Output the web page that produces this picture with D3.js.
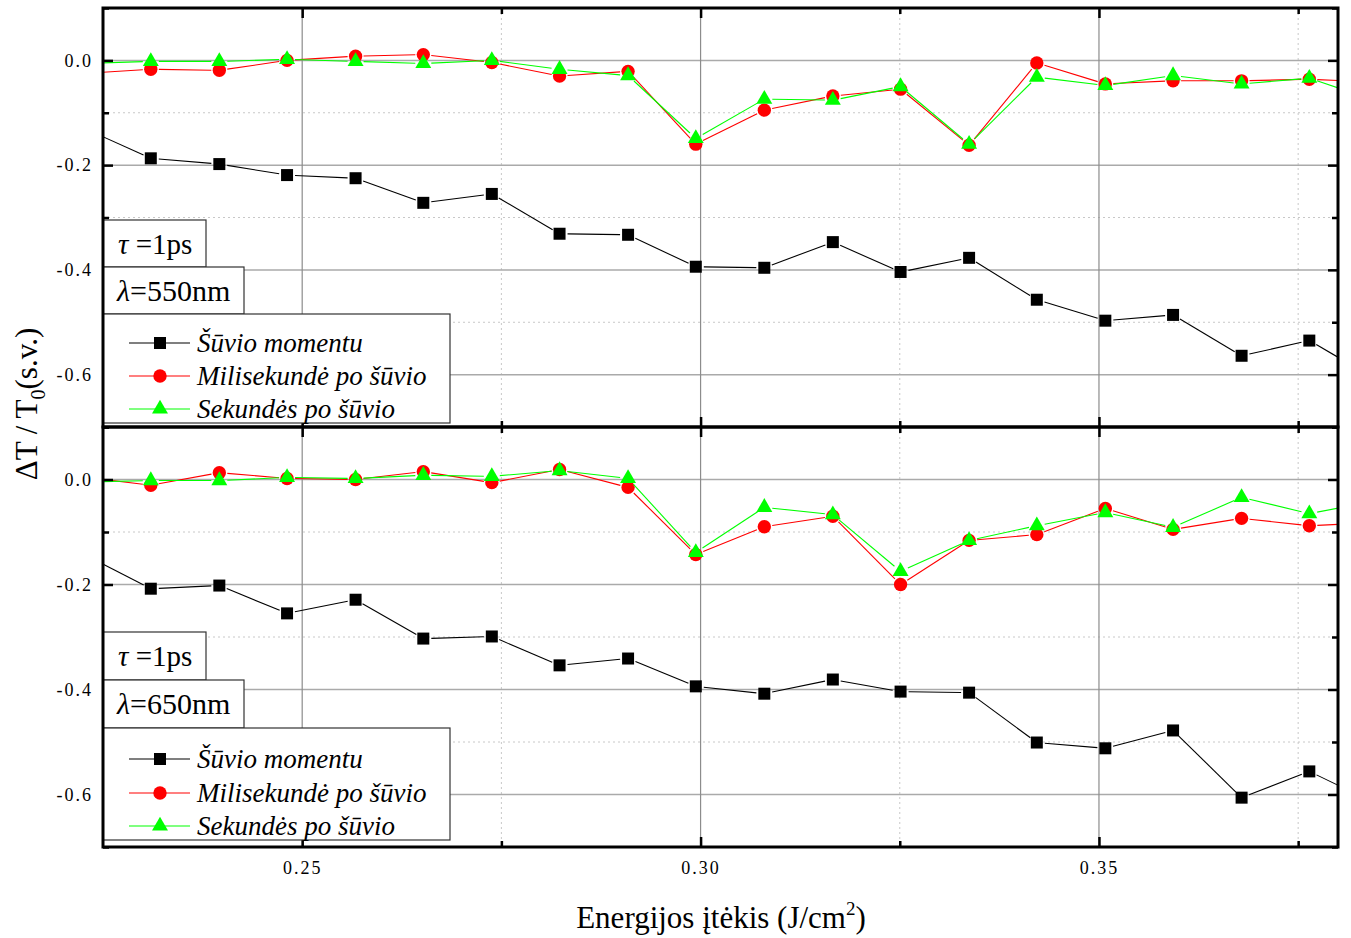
<!DOCTYPE html>
<html>
<head>
<meta charset="utf-8">
<title>Energijos itekis</title>
<script src="https://d3js.org/d3.v7.min.js"></script>
<style>
  body { margin: 0; background: #fff; }
  svg text { font-family: "Liberation Serif", "Times New Roman", serif; fill: #000; }
</style>
</head>
<body>
<div id="chart"></div>
<script>
// energy fluence values (first and last lie just outside the visible range)
var energy = [0.2224, 0.2310, 0.2396, 0.2481, 0.2567, 0.2652, 0.2738, 0.2823, 0.2909, 0.2994,
              0.3080, 0.3166, 0.3251, 0.3337, 0.3422, 0.3508, 0.3593, 0.3679, 0.3764, 0.3850];

// lambda = 550nm
var top_moment = [-0.128, -0.187, -0.198, -0.219, -0.225, -0.272, -0.255, -0.331, -0.333, -0.394,
                  -0.396, -0.347, -0.404, -0.377, -0.457, -0.497, -0.486, -0.564, -0.535, -0.611];
var top_ms     = [-0.025, -0.017, -0.019, 0.000, 0.008, 0.011, -0.004, -0.030, -0.021, -0.160,
                  -0.095, -0.068, -0.055, -0.162, -0.005, -0.045, -0.039, -0.039, -0.036, -0.042];
var top_sec    = [-0.006, -0.002, -0.002, 0.002, -0.002, -0.006, 0.000, -0.017, -0.029, -0.149,
                  -0.074, -0.076, -0.050, -0.160, -0.032, -0.048, -0.029, -0.045, -0.034, -0.078];

// lambda = 650nm
var bot_moment = [-0.141, -0.208, -0.202, -0.255, -0.229, -0.303, -0.299, -0.354, -0.341, -0.394,
                  -0.408, -0.381, -0.404, -0.406, -0.501, -0.512, -0.478, -0.606, -0.556, -0.619];
var bot_ms     = [0.005, -0.011, 0.013, 0.002, 0.000, 0.015, -0.006, 0.019, -0.015, -0.143,
                  -0.090, -0.070, -0.200, -0.116, -0.105, -0.055, -0.095, -0.074, -0.088, -0.082];
var bot_sec    = [-0.005, -0.002, -0.002, 0.004, 0.002, 0.008, 0.006, 0.017, 0.002, -0.139,
                  -0.053, -0.067, -0.175, -0.116, -0.088, -0.063, -0.091, -0.034, -0.065, -0.040];

var seriesNames = ["Šūvio momentu", "Milisekundė po šūvio", "Sekundės po šūvio"];
var xTicks = [0.25, 0.30, 0.35];
var xMinor = [0.275, 0.325, 0.375];
var yTicks = [0, -0.2, -0.4, -0.6];
var yMinor = [0.1, -0.1, -0.3, -0.5, -0.7];

var colors = ["#000000", "#ff0000", "#00ff00"];
var shapes = [d3.symbolSquare, d3.symbolCircle, d3.symbolTriangle];
var sizes = [144, 140, 110];

var W = 1351, H = 938;
var left = 103, right = 1338;

var x = d3.scaleLinear().domain([0.225, 0.38]).range([left, right]);

var panels = [
  {y0: 8, y1: 427, series: [top_moment, top_ms, top_sec], lambda: "550",
   tauBox: [220, 267, 206], lamBox: [267, 314, 244], legBox: [314, 423, 450], rows: [343, 376, 409]},
  {y0: 427, y1: 847, series: [bot_moment, bot_ms, bot_sec], lambda: "650",
   tauBox: [632, 680, 206], lamBox: [680, 728, 244], legBox: [728, 840, 450], rows: [759, 793, 826]}
];

var svg = d3.select("#chart").append("svg")
    .attr("width", W)
    .attr("height", H);

var defs = svg.append("defs");

panels.forEach(function(p, pi) {
  var y = d3.scaleLinear().domain([-0.7, 0.1]).range([p.y1, p.y0]);
  var g = svg.append("g");

  defs.append("clipPath").attr("id", "clip" + pi)
    .append("rect")
      .attr("x", left).attr("y", p.y0)
      .attr("width", right - left).attr("height", p.y1 - p.y0);

  // grid
  g.selectAll(".gxm").data(xMinor).enter().append("line")
      .attr("x1", d => x(d)).attr("x2", d => x(d))
      .attr("y1", p.y0).attr("y2", p.y1)
      .attr("stroke", "#c8c8c8").attr("stroke-dasharray", "2,3");
  g.selectAll(".gym").data(yMinor).enter().append("line")
      .attr("x1", left).attr("x2", right)
      .attr("y1", d => y(d)).attr("y2", d => y(d))
      .attr("stroke", "#c8c8c8").attr("stroke-dasharray", "2,3");
  g.selectAll(".gy").data(yTicks).enter().append("line")
      .attr("x1", left).attr("x2", right)
      .attr("y1", d => y(d)).attr("y2", d => y(d))
      .attr("stroke", "#aaaaaa").attr("stroke-width", 1.5);
  g.selectAll(".gx").data(xTicks).enter().append("line")
      .attr("x1", d => x(d)).attr("x2", d => x(d))
      .attr("y1", p.y0).attr("y2", p.y1)
      .attr("stroke", "#8c8c8c").attr("stroke-width", 1.2);

  // data
  var plot = g.append("g").attr("clip-path", "url(#clip" + pi + ")");
  p.series.forEach(function(vals, si) {
    var pts = vals.map(function(v, i) { return [x(energy[i]), y(v)]; });
    var gap = 8;
    var segs = [];
    for (var i = 0; i < pts.length - 1; i++) {
      var a = pts[i], b = pts[i + 1];
      var dx = b[0] - a[0], dy = b[1] - a[1];
      var d = Math.sqrt(dx * dx + dy * dy);
      if (d > 2 * gap) {
        segs.push([a[0] + dx * gap / d, a[1] + dy * gap / d, b[0] - dx * gap / d, b[1] - dy * gap / d]);
      }
    }
    plot.append("g").selectAll("line").data(segs).enter().append("line")
        .attr("x1", d => d[0]).attr("y1", d => d[1])
        .attr("x2", d => d[2]).attr("y2", d => d[3])
        .attr("stroke", colors[si]).attr("stroke-width", 1.1);
    plot.append("g").selectAll("path").data(pts).enter().append("path")
        .attr("d", d3.symbol().type(shapes[si]).size(sizes[si]))
        .attr("transform", d => "translate(" + d[0] + "," + d[1] + ")")
        .attr("fill", colors[si]);
  });

  // ticks on all four sides, pointing inward
  function styleAxis(sel) {
    sel.select(".domain").remove();
    sel.selectAll(".tick line").attr("stroke", "#000").attr("stroke-width", 2.5);
    sel.selectAll(".tick text")
        .style("font-family", "'Liberation Serif', 'Times New Roman', serif")
        .style("font-size", "18px").style("letter-spacing", "2px");
  }
  g.append("g").attr("transform", "translate(" + left + ",0)")
      .call(d3.axisLeft(y).tickValues(yTicks).tickSize(-10).tickPadding(10)
        .tickFormat(d => d.toFixed(1)))
      .call(styleAxis);
  g.append("g").attr("transform", "translate(" + left + ",0)")
      .call(d3.axisLeft(y).tickValues(yMinor).tickSize(-6).tickFormat(""))
      .call(styleAxis);
  g.append("g").attr("transform", "translate(" + right + ",0)")
      .call(d3.axisRight(y).tickValues(yTicks).tickSize(-10).tickFormat(""))
      .call(styleAxis);
  g.append("g").attr("transform", "translate(" + right + ",0)")
      .call(d3.axisRight(y).tickValues(yMinor).tickSize(-6).tickFormat(""))
      .call(styleAxis);
  g.append("g").attr("transform", "translate(0," + p.y0 + ")")
      .call(d3.axisTop(x).tickValues(xTicks).tickSize(-10).tickFormat(""))
      .call(styleAxis);
  g.append("g").attr("transform", "translate(0," + p.y0 + ")")
      .call(d3.axisTop(x).tickValues(xMinor).tickSize(-6).tickFormat(""))
      .call(styleAxis);
  g.append("g").attr("transform", "translate(0," + p.y1 + ")")
      .call(d3.axisBottom(x).tickValues(xTicks).tickSize(-10).tickPadding(14)
        .tickFormat(pi === 1 ? (d => d.toFixed(2)) : ""))
      .call(styleAxis);
  g.append("g").attr("transform", "translate(0," + p.y1 + ")")
      .call(d3.axisBottom(x).tickValues(xMinor).tickSize(-6).tickFormat(""))
      .call(styleAxis);

  // annotation boxes
  function box(b) {
    g.append("rect")
        .attr("x", left).attr("y", b[0])
        .attr("width", b[2] - left).attr("height", b[1] - b[0])
        .attr("fill", "#fff").attr("stroke", "#333").attr("stroke-width", 1.2);
  }
  box(p.tauBox);
  box(p.lamBox);
  box(p.legBox);

  var t1 = g.append("text").attr("x", 118).attr("y", (p.tauBox[0] + p.tauBox[1]) / 2 + 10)
      .style("font-size", "29px");
  t1.append("tspan").style("font-style", "italic").text("τ");
  t1.append("tspan").text(" =1ps");
  var t2 = g.append("text").attr("x", 117).attr("y", (p.lamBox[0] + p.lamBox[1]) / 2 + 10)
      .style("font-size", "30px");
  t2.append("tspan").style("font-style", "italic").text("λ");
  t2.append("tspan").text("=" + p.lambda + "nm");

  p.rows.forEach(function(ry, si) {
    g.append("line")
        .attr("x1", 129).attr("x2", 190).attr("y1", ry).attr("y2", ry)
        .attr("stroke", colors[si]).attr("stroke-width", 1.1);
    g.append("path")
        .attr("d", d3.symbol().type(shapes[si]).size(sizes[si]))
        .attr("transform", "translate(160," + ry + ")")
        .attr("fill", colors[si]);
    g.append("text")
        .attr("x", 197).attr("y", ry + 9)
        .style("font-size", "27px").style("font-style", "italic")
        .text(seriesNames[si]);
  });

  // frame
  g.append("rect")
      .attr("x", left).attr("y", p.y0)
      .attr("width", right - left).attr("height", p.y1 - p.y0)
      .attr("fill", "none").attr("stroke", "#000").attr("stroke-width", 3);
});

// axis titles
var xt = svg.append("text")
    .attr("x", 721).attr("y", 928)
    .attr("text-anchor", "middle")
    .style("font-size", "31px");
xt.append("tspan").text("Energijos įtėkis (J/cm");
xt.append("tspan").attr("dy", -13).style("font-size", "19px").text("2");
xt.append("tspan").attr("dy", 13).text(")");

var yt = svg.append("text")
    .attr("transform", "translate(37,404) rotate(-90)")
    .attr("text-anchor", "middle")
    .style("font-size", "31px");
yt.append("tspan").text("ΔT / T");
yt.append("tspan").attr("dy", 8).style("font-size", "20px").text("0");
yt.append("tspan").attr("dy", -8).text("(s.v.)");
</script>
</body>
</html>
